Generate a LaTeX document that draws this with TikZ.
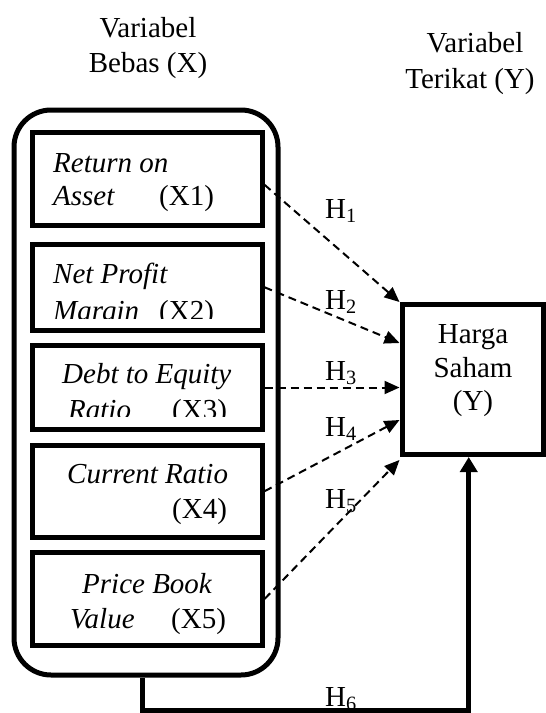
\documentclass[tikz,border=0pt]{standalone}
\usepackage{fontspec}
\setmainfont{Liberation Serif}
\usepackage{tikz}
\usetikzlibrary{arrows.meta}

\newcommand{\ukuran}{\fontsize{29}{34.5}\selectfont}

\tikzset{
  kotak/.style={draw=black,line width=5pt,inner sep=0pt},
  miring/.style={anchor=base west,inner sep=0pt,font=\ukuran\itshape},
  tegak/.style={anchor=base west,inner sep=0pt},
  judul/.style={anchor=base,inner sep=0pt},
  panah/.style={draw=black,line width=2pt,dash pattern=on 8pt off 5pt,
    -{Triangle[length=15pt,width=13pt]}},
  garis/.style={draw=black,line width=5pt,-{Triangle[length=15pt,width=17pt]}}
}

\begin{document}
\begin{tikzpicture}[x=1pt,y=-1pt,font=\ukuran]

    \useasboundingbox (0,0) rectangle (546,713);

    % judul
    \node[judul] (judulxa) at (148,37) {Variabel};
    \node[judul] (judulxb) at (148,72) {Bebas (X)};
    \node[judul] (judulya) at (475,52) {Variabel};
    \node[judul] (judulyb) at (470,88) {Terikat (Y)};

    % variabel bebas
    \node[kotak,rounded corners=37pt,minimum width=264pt,minimum height=565pt]
    (bebas) at (146,392.5) {};

    \node[kotak,minimum width=230pt,minimum height=93.5pt] (x1) at (147,178.75) {};
    \node[miring] (x1a) at (53,172) {Return on};
    \node[miring] (x1b) at (53,205) {Asset};
    \node[tegak] (x1c) at (159,205) {(X1)};

    \node[kotak,minimum width=230pt,minimum height=86.5pt] (x2) at (147,287.25) {};
    \node[miring] (x2a) at (53,283) {Net Profit};
    \begin{scope}
      \clip (32,300) rectangle (262,318);
      \node[miring] (x2b) at (53,320) {Margin};
      \node[tegak] (x2c) at (159,320) {(X2)};
    \end{scope}

    \node[kotak,minimum width=230pt,minimum height=84pt] (x3) at (147,387.5) {};
    \node[miring] (x3a) at (62,383) {Debt to Equity};
    \begin{scope}
      \clip (32,395) rectangle (262,416);
      \node[miring] (x3b) at (68,419) {Ratio};
      \node[tegak] (x3c) at (172,419) {(X3)};
    \end{scope}

    \node[kotak,minimum width=230pt,minimum height=92.5pt] (x4) at (147,491.25) {};
    \node[miring] (x4a) at (67,483) {Current Ratio};
    \node[tegak] (x4c) at (172,518) {(X4)};

    \node[kotak,minimum width=230pt,minimum height=93pt] (x5) at (147,599) {};
    \node[miring] (x5a) at (82,593) {Price Book};
    \node[miring] (x5b) at (70,628) {Value};
    \node[tegak] (x5c) at (171,628) {(X5)};

    % variabel terikat
    \node[kotak,minimum width=141.5pt,minimum height=150pt] (yb) at (472.75,379.5) {};
    \node[judul] (ya) at (473,343) {Harga};
    \node[judul] (yc) at (473,377) {Saham};
    \node[judul] (yd) at (473,410) {(Y)};

    % hipotesis
    \draw[panah] ([yshift=-6pt]x1.east) -- (yb.north west);
    \draw[panah] (x2.east) -- ([yshift=36.5pt]yb.west);
    \draw[panah] (x3.east) -- (x3.east -| yb.west);
    \draw[panah] (x4.east) -- ([yshift=-40.5pt]yb.west);
    \draw[panah] (x5.east) -- ([yshift=-3pt]yb.south west);

    \coordinate (dasar) at (300,710);
    \draw[garis] ([xshift=-4pt]bebas.south) |- (dasar) -| ([xshift=-4pt]yb.south);

    \node[tegak] (h1) at (325,218) {H\textsubscript{1}};
    \node[tegak] (h2) at (325,309) {H\textsubscript{2}};
    \node[tegak] (h3) at (325,380) {H\textsubscript{3}};
    \node[tegak] (h4) at (325,436) {H\textsubscript{4}};
    \node[tegak] (h5) at (325,508) {H\textsubscript{5}};
    \node[tegak] (h6) at (325,706) {H\textsubscript{6}};

\end{tikzpicture}
\end{document}
